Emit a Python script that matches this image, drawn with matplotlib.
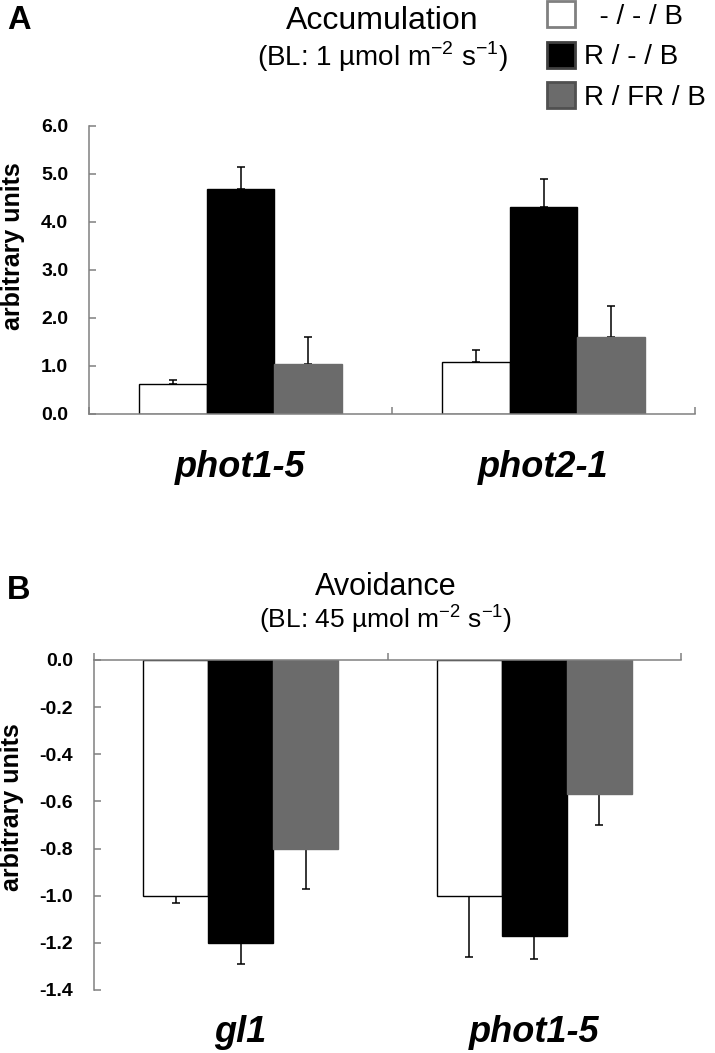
import numpy as np
import matplotlib
matplotlib.use('Agg')
import matplotlib.pyplot as plt
from matplotlib.patches import Patch

plt.rcParams['font.family'] = ['Liberation Sans', 'DejaVu Sans']
plt.rcParams['mathtext.fontset'] = 'custom'
plt.rcParams['mathtext.rm'] = 'Liberation Sans'
plt.rcParams['axes.unicode_minus'] = False

# data
conditions = ['  - / - / B', 'R / - / B', 'R / FR / B']
colors = ['white', 'black', '#6b6b6b']
edges = ['black', 'black', '#6b6b6b']
legend_edges = ['#808080', '#404040', '#505050']

acc_lines = ['phot1-5', 'phot2-1']
acc_vals = [[0.63, 1.08], [4.68, 4.32], [1.05, 1.60]]
acc_err = [[0.07, 0.25], [0.47, 0.58], [0.55, 0.65]]

avo_lines = ['gl1', 'phot1-5']
avo_vals = [[-1.00, -1.00], [-1.20, -1.17], [-0.80, -0.57]]
avo_err = [[0.03, 0.26], [0.09, 0.10], [0.17, 0.13]]

W, H = 715, 1053
fig = plt.figure(figsize=(W / 100, H / 100), dpi=100)

spine_col = '#808080'


def draw_bars(ax, vals, errs, lines, width, upward):
    x = np.arange(len(lines))
    for i in range(3):
        pos = x + (i - 1) * width
        ax.bar(pos, vals[i], width, color=colors[i], edgecolor=edges[i], linewidth=1.0, zorder=2)
        e = np.array(errs[i])
        if upward:
            yerr = [np.zeros_like(e), e]
        else:
            yerr = [e, np.zeros_like(e)]
        ax.errorbar(pos, vals[i], yerr=yerr, fmt='none', ecolor='black', elinewidth=1.1,
                    capsize=3.2, capthick=1.1, zorder=1)
    ax.set_xlim(-0.5, len(lines) - 0.5)
    ax.set_xticks(np.arange(len(lines) + 1) - 0.5)
    ax.set_xticklabels([])
    for s in ['top', 'right', 'bottom', 'left']:
        ax.spines[s].set_color(spine_col)
        ax.spines[s].set_linewidth(1.1)
    ax.tick_params(axis='y', direction='in', length=5, width=1.1, color=spine_col,
                   pad=15, labelsize=14)
    ax.tick_params(axis='x', length=5, width=1.1, color=spine_col)


# ---- panel A
axA = fig.add_axes([89 / W, 1 - 414 / H, (695 - 89) / W, (414 - 126) / H])
draw_bars(axA, acc_vals, acc_err, acc_lines, 0.223, True)
axA.set_ylim(0, 6)
at = np.arange(0, 6.1, 1.0)
axA.set_yticks(at)
axA.set_yticklabels(['%.1f' % v for v in at], fontweight='bold')
axA.spines['top'].set_visible(False)
axA.spines['right'].set_visible(False)
axA.tick_params(axis='x', direction='in')
for i, name in enumerate(acc_lines):
    axA.text(i, -0.1875, name, transform=axA.get_xaxis_transform(), ha='center', va='center',
             fontsize=26, fontweight='bold', fontstyle='italic')

# ---- panel B
axB = fig.add_axes([94 / W, 1 - 990 / H, (681 - 94) / W, (990 - 660) / H])
draw_bars(axB, avo_vals, avo_err, avo_lines, 0.2215, False)
axB.set_ylim(-1.4, 0)
bt = np.round(np.arange(-1.4, 0.01, 0.2), 1)
axB.set_yticks(bt)
axB.set_yticklabels(['%.1f' % v if v != 0 else '0.0' for v in bt], fontweight='bold')
axB.spines['bottom'].set_visible(False)
axB.spines['right'].set_visible(False)
axB.xaxis.set_ticks_position('top')
axB.tick_params(axis='x', direction='out')
for i, name in enumerate(avo_lines):
    axB.text(i, -0.13, name, transform=axB.get_xaxis_transform(), ha='center', va='center',
             fontsize=26, fontweight='bold', fontstyle='italic')

# ---- labels and titles
fig.text(13 / W, 1 - 246 / H, 'arbitrary units', rotation=90, ha='center', va='center',
         fontsize=18, fontweight='bold')
fig.text(12 / W, 1 - 807 / H, 'arbitrary units', rotation=90, ha='center', va='center',
         fontsize=18, fontweight='bold')
fig.text(7 / W, 1 - 5 / H, 'A', ha='left', va='top', fontsize=23.5, fontweight='bold')
fig.text(7 / W, 1 - 575 / H, 'B', ha='left', va='top', fontsize=23.5, fontweight='bold')

fig.text(382 / W, 1 - 29 / H, 'Accumulation', ha='center', va='baseline', fontsize=23)
fig.text(382 / W, 1 - 66 / H, r'(BL: 1 µmol m$^{\mathregular{-2}}$ s$^{\mathregular{-1}}$)',
         ha='center', va='baseline', fontsize=20)
fig.text(386 / W, 1 - 595 / H, 'Avoidance', ha='center', va='baseline', fontsize=22)
fig.text(386 / W, 1 - 628 / H, r'(BL: 45 µmol m$^{\mathregular{-2}}$ s$^{\mathregular{-1}}$)',
         ha='center', va='baseline', fontsize=19)

handles = [Patch(facecolor=colors[i], edgecolor=legend_edges[i], linewidth=2) for i in range(3)]
fig.legend(handles, conditions, loc='upper left', bbox_to_anchor=(547 / W, 1 - 1 / H),
           frameon=False, fontsize=20, handlelength=1.0, handleheight=1.08,
           handletextpad=0.32, labelspacing=0.43, borderpad=0, borderaxespad=0)

fig.savefig('out.png', dpi=100)
